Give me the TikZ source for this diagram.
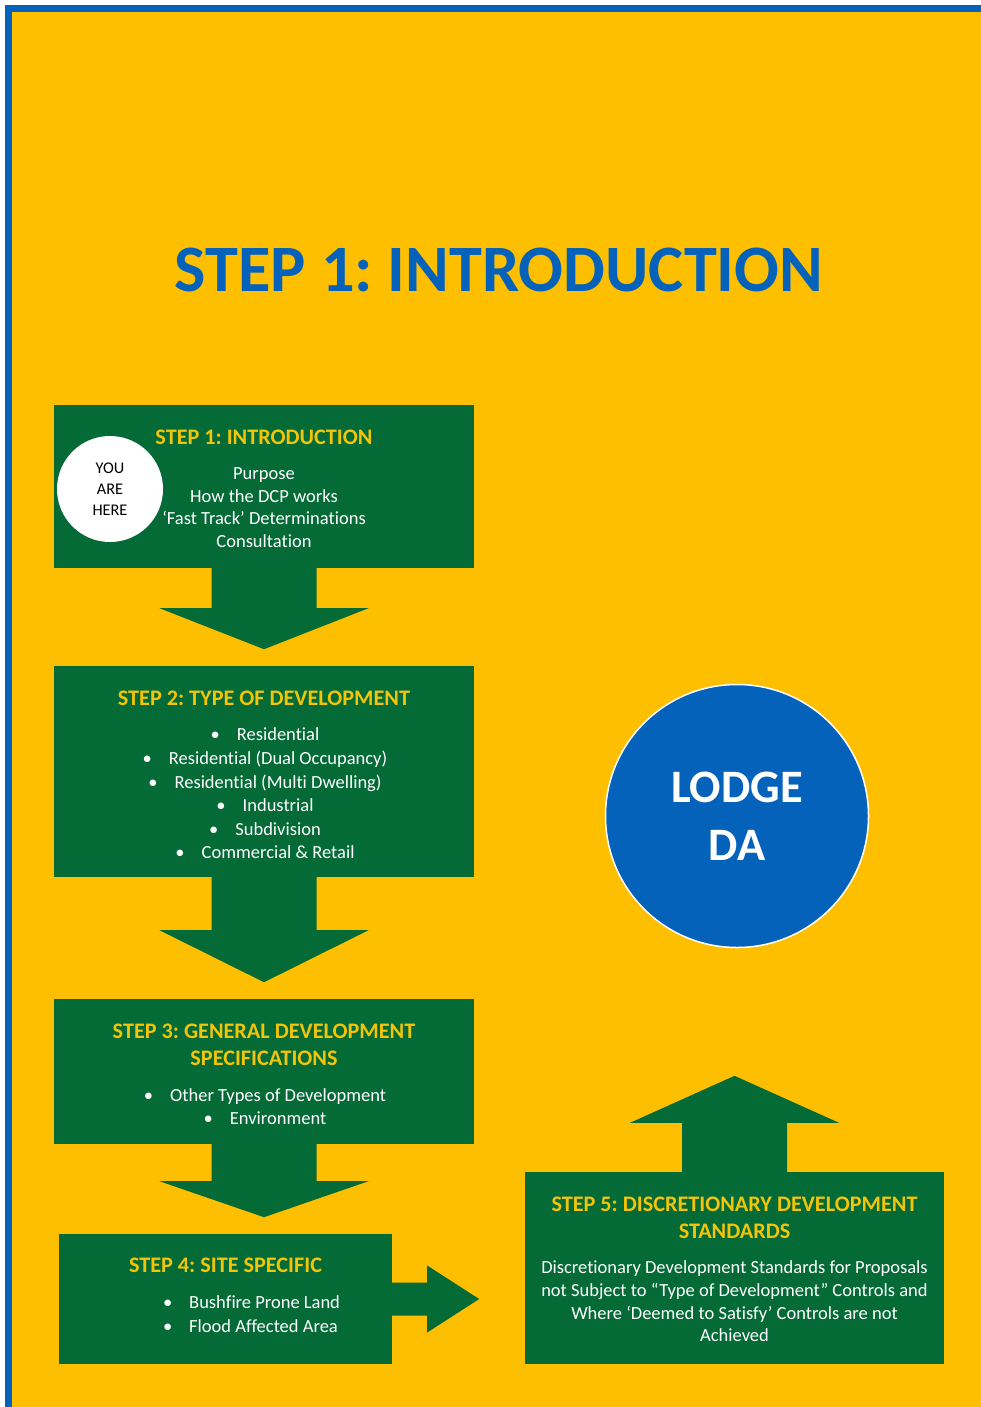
\documentclass[tikz,border=0pt]{standalone}
\usepackage{fontspec}
\setmainfont{Carlito}[Ligatures=NoCommon]
\usetikzlibrary{calc}
\definecolor{bgyellow}{RGB}{253,191,0}
\definecolor{boxgreen}{RGB}{4,106,54}
\definecolor{docblue}{RGB}{5,98,186}
\definecolor{titleyellow}{RGB}{242,196,10}
\frenchspacing
\begin{document}
\begin{tikzpicture}[x=1pt,y=-1pt,
  stepbox/.style={fill=boxgreen, draw=none, inner sep=0pt},
  arrowfill/.style={fill=boxgreen},
  boxtitle/.style={text=titleyellow, font=\fontsize{22.2}{27}\selectfont\bfseries, align=center, inner sep=0pt},
  boxtext/.style={text=white, font=\fontsize{18.5}{22.7}\selectfont, align=center, inner sep=0pt},
  bullettext/.style={text=white, font=\fontsize{18.5}{23.6}\selectfont, align=center, inner sep=0pt}]
\useasboundingbox (0,0) rectangle (981,1407);
\clip (0,0) rectangle (981,1407);
\fill[white] (0,0) rectangle (981,1407);
\fill[docblue] (5,5) rectangle (1000,1420);
\fill[bgyellow] (12,12) rectangle (1000,1420);

\node[text=docblue, font=\fontsize{66.3}{70}\selectfont\bfseries, inner sep=0pt] (title) at (499,270) {STEP 1: INTRODUCTION};

% boxes
\node[stepbox, minimum width=420pt, minimum height=163pt] (b1) at (264,486.5) {};
\node[stepbox, minimum width=420pt, minimum height=211pt] (b2) at (264,771.5) {};
\node[stepbox, minimum width=420pt, minimum height=145pt] (b3) at (264,1071.5) {};
\node[stepbox, minimum width=333pt, minimum height=130pt] (b4) at (225.5,1299) {};
\node[stepbox, minimum width=419pt, minimum height=192pt] (b5) at (734.5,1268) {};

% block arrows
\fill[arrowfill] (b1.south) ++(-52.5,0) -- ++(0,40) -- ++(-52,0) -- ++(104.5,41) -- ++(104.5,-41) -- ++(-52,0) -- ++(0,-40) -- cycle;
\fill[arrowfill] (b2.south) ++(-52.5,0) -- ++(0,53) -- ++(-52,0) -- ++(104.5,52) -- ++(104.5,-52) -- ++(-52,0) -- ++(0,-53) -- cycle;
\fill[arrowfill] (b3.south) ++(-52.5,0) -- ++(0,37) -- ++(-52,0) -- ++(104.5,36) -- ++(104.5,-36) -- ++(-52,0) -- ++(0,-37) -- cycle;
\fill[arrowfill] (b4.east) ++(0,-16.5) -- ++(35,0) -- ++(0,-17) -- ++(52,33.5) -- ++(-52,33.5) -- ++(0,-17) -- ++(-35,0) -- cycle;
\fill[arrowfill] (b5.north) ++(-52.5,0) -- ++(0,-49) -- ++(-52,0) -- ++(104.5,-47) -- ++(104.5,47) -- ++(-52,0) -- ++(0,49) -- cycle;

% box 1
\node[boxtitle] (t1) at (264,437.5) {STEP 1: INTRODUCTION};
\node[boxtext] (x1) at (264,507.5) {Purpose\\How the DCP works\\‘Fast Track’ Determinations\\Consultation};
\node[circle, fill=white, minimum size=106pt, inner sep=0pt, align=center, font=\fontsize{16.3}{21}\selectfont] (you) at (110,489) {YOU\\ARE\\HERE};

% box 2
\node[boxtitle] (t2) at (264,698.5) {STEP 2: TYPE OF DEVELOPMENT};
\node[bullettext] (x2) at (265,793.5) {\textbullet\hspace{17pt}Residential\\
\textbullet\hspace{17pt}Residential (Dual Occupancy)\\
\textbullet\hspace{17pt}Residential (Multi Dwelling)\\
\textbullet\hspace{17pt}Industrial\\
\textbullet\hspace{17pt}Subdivision\\
\textbullet\hspace{17pt}Commercial \& Retail};

% box 3
\node[boxtitle] (t3) at (264,1045) {STEP 3: GENERAL DEVELOPMENT\\SPECIFICATIONS};
\node[bullettext, font=\fontsize{18.5}{23}\selectfont] (x3) at (265,1107) {\textbullet\hspace{17pt}Other Types of Development\\
\textbullet\hspace{17pt}Environment};

% box 4
\node[boxtitle] (t4) at (225.5,1265.5) {STEP 4: SITE SPECIFIC};
\node[bullettext, align=left, font=\fontsize{18.5}{24}\selectfont] (x4) at (251.5,1314.5) {\textbullet\hspace{17pt}Bushfire Prone Land\\
\textbullet\hspace{17pt}Flood Affected Area};

% box 5
\node[boxtitle] (t5) at (734.5,1218) {STEP 5: DISCRETIONARY DEVELOPMENT\\STANDARDS};
\node[boxtext] (x5) at (734.5,1301.5) {Discretionary Development Standards for Proposals\\not Subject to “Type of Development” Controls and\\Where ‘Deemed to Satisfy’ Controls are not\\Achieved};

% lodge circle
\node[circle, fill=docblue, draw=white, line width=1.5pt, minimum size=263pt, inner sep=0pt, align=center, text=white, font=\fontsize{46.5}{58}\selectfont\bfseries] (lodge) at (737,816) {LODGE\\DA};
\end{tikzpicture}
\end{document}
